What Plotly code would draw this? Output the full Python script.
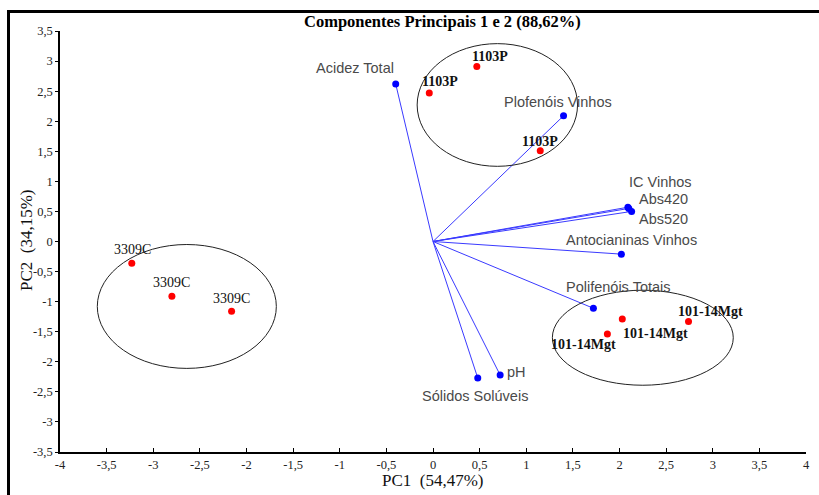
import plotly.graph_objects as go
import numpy as np

# ---- data ----
var_names = ["Acidez Total", "Plofenóis Vinhos", "IC Vinhos", "Abs420", "Abs520",
             "Antocianinas Vinhos", "Polifenóis Totais", "pH", "Sólidos Solúveis"]
var_pc1 = [-0.40, 1.40, 2.09, 2.10, 2.13, 2.02, 1.72, 0.72, 0.48]
var_pc2 = [2.62, 2.09, 0.57, 0.55, 0.50, -0.21, -1.11, -2.22, -2.27]

sample_names = ["1103P", "1103P", "1103P", "3309C", "3309C", "3309C",
                "101-14Mgt", "101-14Mgt", "101-14Mgt"]
sample_pc1 = [0.47, -0.04, 1.15, -3.23, -2.80, -2.16, 2.03, 2.74, 1.87]
sample_pc2 = [2.91, 2.47, 1.51, -0.36, -0.91, -1.16, -1.29, -1.33, -1.54]

group_names = ["1103P", "3309C", "101-14Mgt"]
group_cx = [0.69, -2.64, 2.25]
group_cy = [2.27, -1.08, -1.60]
group_rx = [0.86, 0.96, 0.97]
group_ry = [1.02, 1.03, 0.79]

x_ticks = [-4, -3.5, -3, -2.5, -2, -1.5, -1, -0.5, 0, 0.5, 1, 1.5, 2, 2.5, 3, 3.5, 4]
y_ticks = [-3.5, -3, -2.5, -2, -1.5, -1, -0.5, 0, 0.5, 1, 1.5, 2, 2.5, 3, 3.5]

# ---- label offsets (pixels) ----
var_off = [(-41, -16), (-6, -14), (33, -25), (35, -9), (32, 8), (10, -14), (25, -21), (16, -3), (-3, 18)]
samp_off = [(13, -10), (11, -11), (0, -9), (1, -14), (0, -14), (0, -13), (33, 14), (22, -10), (-24, 10)]

def fmt(v):
    return ("%g" % v).replace(".", ",")

serif = "Liberation Serif, Times New Roman"
PH = 421.0  # plot height in px
PW = 746.0  # plot width in px

def px(xp):
    return (xp - 60) / PW

def py(yp):
    return (452 - yp) / PH

fig = go.Figure()

# loading vectors
for x, y in zip(var_pc1, var_pc2):
    fig.add_trace(go.Scatter(x=[0, x], y=[0, y], mode="lines",
                             line=dict(color="#3a3aff", width=1), showlegend=False, hoverinfo="skip"))
fig.add_trace(go.Scatter(x=var_pc1, y=var_pc2, mode="markers",
                         marker=dict(color="#0000ff", size=7), showlegend=False, text=var_names))
fig.add_trace(go.Scatter(x=sample_pc1, y=sample_pc2, mode="markers",
                         marker=dict(color="#ff0000", size=7), showlegend=False, text=sample_names))

# ellipses
for cx, cy, rx, ry in zip(group_cx, group_cy, group_rx, group_ry):
    fig.add_shape(type="circle", xref="x", yref="y", x0=cx - rx, x1=cx + rx, y0=cy - ry, y1=cy + ry,
                  line=dict(color="#222222", width=1))

# labels
for n, x, y, (dx, dy) in zip(var_names, var_pc1, var_pc2, var_off):
    fig.add_annotation(x=x, y=y, text=n, showarrow=False, xshift=dx, yshift=-dy,
                       xanchor="center", yanchor="middle",
                       font=dict(family="Liberation Sans, Arial", size=14.5, color="#4a4a4a"))
for n, x, y, (dx, dy) in zip(sample_names, sample_pc1, sample_pc2, samp_off):
    bold = n != "3309C"
    fig.add_annotation(x=x, y=y, text=("<b>%s</b>" % n) if bold else n, showarrow=False,
                       xshift=dx, yshift=-dy, xanchor="center", yanchor="middle",
                       font=dict(family=serif, size=14, color="#111111"))

# title
fig.add_annotation(xref="paper", yref="paper", x=px(442), y=py(22), xanchor="center", yanchor="middle",
                   text="<b>Componentes Principais 1 e 2 (88,62%)</b>", showarrow=False,
                   font=dict(family=serif, size=16.5, color="#000000"))
# axis titles
fig.add_annotation(xref="paper", yref="paper", x=px(433), y=py(480), xanchor="center", yanchor="middle",
                   text="PC1\u00a0\u00a0(54,47%)", showarrow=False,
                   font=dict(family=serif, size=17, color="#111111"))
fig.add_annotation(xref="paper", yref="paper", x=px(26), y=py(240), xanchor="center", yanchor="middle",
                   text="PC2\u00a0\u00a0(34,15%)", showarrow=False, textangle=-90,
                   font=dict(family=serif, size=17, color="#111111"))

# frame lines
fig.add_shape(type="line", xref="paper", yref="paper", x0=px(8.5), x1=px(8.5),
              y0=py(10), y1=py(500), line=dict(color="#000000", width=3))
fig.add_shape(type="line", xref="paper", yref="paper", x0=px(7), x1=px(825),
              y0=py(11.5), y1=py(11.5), line=dict(color="#000000", width=3))

fig.update_layout(
    width=819, height=495,
    margin=dict(l=60, r=13, t=31, b=43),
    paper_bgcolor="white", plot_bgcolor="white",
    xaxis=dict(range=[-4, 4], tickvals=x_ticks, ticktext=[fmt(v) for v in x_ticks], automargin=False,
               showgrid=False, zeroline=False, showline=True, linecolor="#000000", linewidth=1.5,
               ticks="inside", ticklen=4, tickcolor="#000000",
               tickfont=dict(family=serif, size=12.5, color="#222222")),
    yaxis=dict(range=[-3.5, 3.5], tickvals=y_ticks, ticktext=[fmt(v) for v in y_ticks], automargin=False,
               showgrid=False, zeroline=False, showline=True, linecolor="#000000", linewidth=1.5,
               ticks="outside", ticklen=3, tickcolor="#000000",
               tickfont=dict(family=serif, size=12.5, color="#222222")),
)

fig.write_html("out.html", config={"displayModeBar": False},
               post_script="document.body.style.margin='0';document.body.style.overflow='hidden';")
